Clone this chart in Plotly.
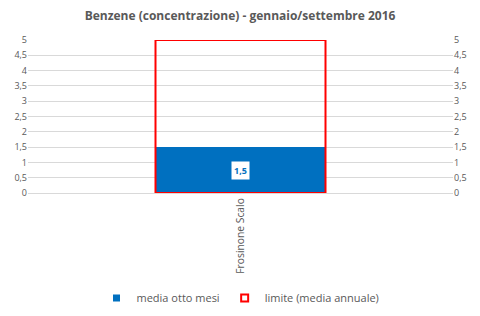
import plotly.graph_objects as go

categories = ["Frosinone Scalo"]
media_otto_mesi = [1.5]
limite = [5]
tick_vals = [0, 0.5, 1, 1.5, 2, 2.5, 3, 3.5, 4, 4.5, 5]
tick_text = ["0", "0,5", "1", "1,5", "2", "2,5", "3", "3,5", "4", "4,5", "5"]
title = "Benzene (concentrazione) - gennaio/settembre 2016"

font_fam = "Open Sans"
gray = "#595959"
blue = "#0070C0"
red = "#FF0000"

fig = go.Figure()
fig.add_trace(go.Bar(
    x=categories, y=media_otto_mesi, name="media otto mesi", showlegend=False,
    marker=dict(color=blue, line=dict(width=0)), width=0.4,
))
fig.add_trace(go.Bar(
    x=categories, y=limite, name="limite (media annuale)", showlegend=False,
    marker=dict(color="rgba(0,0,0,0)", line=dict(color=red, width=2)),
    width=0.4,
))
# legend entries
fig.add_trace(go.Scatter(x=[None], y=[None], mode="markers", name="media otto mesi",
                         marker=dict(symbol="square", size=7, color=blue, line=dict(width=0))))
fig.add_trace(go.Scatter(x=[None], y=[None], mode="markers", name="limite (media annuale)",
                         marker=dict(symbol="square", size=7, color="white",
                                     line=dict(color=red, width=2))))
fig.add_trace(go.Scatter(x=categories, y=[None], yaxis="y2", showlegend=False,
                         hoverinfo="skip"))

for c, v in zip(categories, media_otto_mesi):
    fig.add_annotation(x=c, y=v / 2, text="<b>" + str(v).replace(".", ",") + "</b>",
                       showarrow=False, bgcolor="white",
                       font=dict(family=font_fam, size=9, color=blue),
                       borderpad=2)

axis_common = dict(range=[0, 5], tickvals=tick_vals, ticktext=tick_text,
                   tickfont=dict(family=font_fam, size=9, color=gray),
                   showline=False, zeroline=False, ticks="", automargin=False)
fig.update_layout(
    width=480, height=316,
    margin=dict(l=28, r=27, t=40, b=123, autoexpand=False),
    paper_bgcolor="white", plot_bgcolor="white",
    barmode="overlay", bargap=0.6,
    title=dict(text="<b>" + title + "</b>", x=0.5, xanchor="center", y=0.95, yanchor="middle",
               font=dict(family=font_fam, size=12, color=gray)),
    xaxis=dict(tickangle=-90, tickfont=dict(family=font_fam, size=10.3, color=gray),
               showline=True, linecolor="#D9D9D9", ticks="", automargin=False),
    yaxis=dict(showgrid=True, gridcolor="#D9D9D9", **axis_common),
    yaxis2=dict(overlaying="y", side="right", showgrid=False, **axis_common),
    legend=dict(orientation="h", x=0.5, xanchor="center", y=-0.686, yanchor="middle",
                font=dict(family=font_fam, size=11, color=gray), itemwidth=30,
                traceorder="normal"),
    showlegend=True,
)
fig.write_html("out.html")
